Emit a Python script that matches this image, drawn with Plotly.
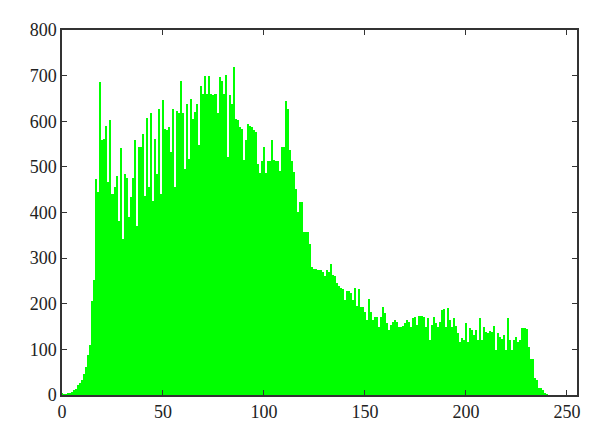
import plotly.graph_objects as go

# Histogram counts per gray level (0..255)
counts_0_47 = [3, 2, 2, 4, 5, 6, 10, 14, 22, 26, 32, 45, 62, 88, 110, 207,
               252, 474, 445, 687, 560, 562, 590, 466, 603, 441, 455, 479, 382, 541, 342, 485,
               476, 390, 435, 476, 558, 371, 543, 543, 571, 437, 607, 455, 617, 426, 561, 485]
counts_48_96 = [627, 441, 647, 583, 580, 587, 532, 627, 456, 622, 617, 689, 617, 496, 638, 518,
                649, 606, 620, 638, 547, 678, 660, 700, 660, 700, 660, 657, 660, 617, 698, 689,
                660, 702, 522, 657, 638, 719, 606, 603, 587, 583, 514, 558, 594, 590, 587, 580,
                576]
counts_97_145 = [507, 487, 512, 543, 487, 512, 512, 559, 514, 513, 512, 492, 543, 543, 645, 627,
                 536, 512, 489, 452, 401, 423, 423, 357, 357, 357, 332, 281, 277, 277, 274, 274,
                 270, 260, 274, 270, 288, 263, 260, 245, 238, 234, 232, 209, 227, 227, 223, 209,
                 234]
counts_146_194 = [195, 233, 193, 193, 182, 164, 211, 182, 164, 170, 171, 150, 171, 192, 179, 157,
                  142, 153, 160, 164, 160, 150, 150, 152, 157, 164, 160, 148, 168, 171, 153, 173,
                  173, 171, 150, 168, 120, 153, 171, 157, 150, 160, 186, 188, 150, 190, 164, 150,
                  168]
counts_195_255 = [151, 136, 117, 124, 120, 158, 117, 146, 142, 131, 142, 120, 169, 120, 148, 139,
                  136, 141, 139, 151, 98, 135, 128, 122, 131, 98, 169, 120, 98, 120, 128, 117,
                  120, 146, 146, 144, 106, 80, 78, 37, 33, 15, 15, 11, 4, 1,
                  0, 0, 0, 0, 0, 0, 0, 0, 0, 0, 0, 0, 0, 0, 0]

counts = counts_0_47 + counts_48_96 + counts_97_145 + counts_146_194 + counts_195_255
levels = list(range(len(counts)))

x_ticks = [0, 50, 100, 150, 200, 250]
y_ticks = [0, 100, 200, 300, 400, 500, 600, 700, 800]

fig = go.Figure(go.Bar(x=levels, y=counts, marker=dict(color="#00ff00", line=dict(width=0)),
                       width=1.0))

axis_common = dict(showgrid=False, zeroline=False, showline=True, linecolor="#333333",
                   linewidth=1.5, mirror="ticks", ticks="inside", ticklen=5,
                   tickcolor="#333333", tickwidth=1,
                   tickfont=dict(family="Liberation Serif", size=18, color="#222222"))

fig.update_layout(
    width=600, height=439,
    margin=dict(l=54, r=31, t=22, b=52),
    paper_bgcolor="white", plot_bgcolor="white",
    bargap=0, showlegend=False,
    xaxis=dict(range=[0, 255], tickvals=x_ticks, **axis_common),
    yaxis=dict(range=[0, 800], tickvals=y_ticks, **axis_common),
)

fig.write_html("out.html")
